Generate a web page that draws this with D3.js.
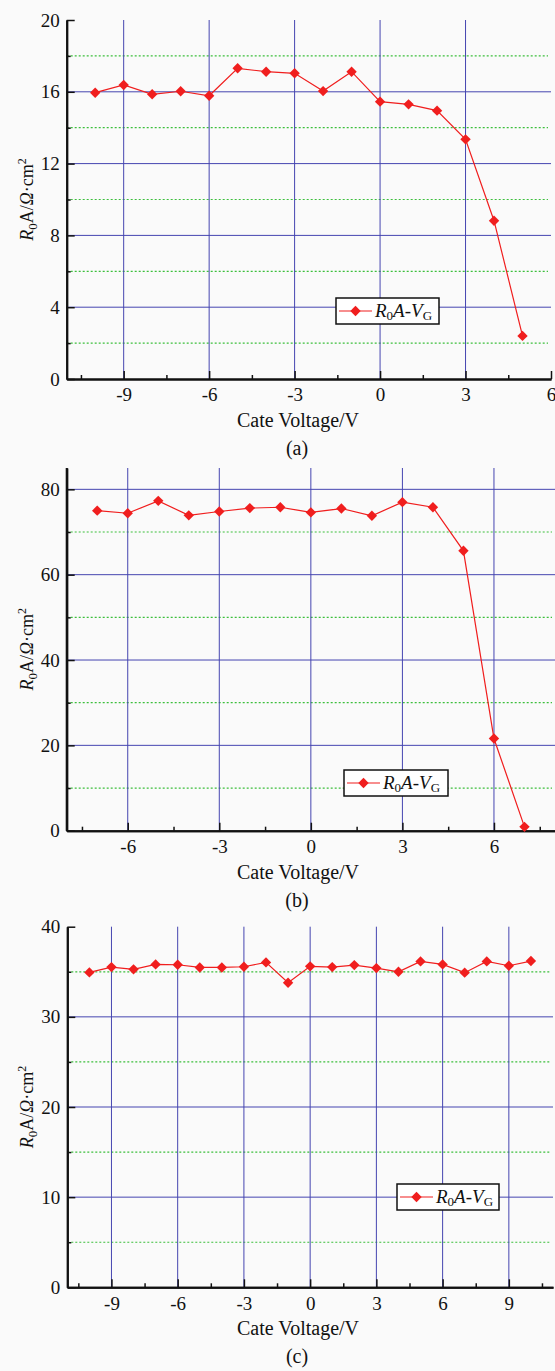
<!DOCTYPE html>
<html lang="en">
<head>
<meta charset="utf-8">
<title>R0A vs gate voltage</title>
<script src="https://cdn.jsdelivr.net/npm/d3@7"></script>
<style>
  body { margin: 0; background: #fafafa; }
  text { font-family: "Liberation Serif", "Times New Roman", serif; fill: #111; }
</style>
</head>
<body></body>
<script>

//****************************************************************************//
// Data

var voltsA = [-10, -9, -8, -7, -6, -5, -4, -3, -2, -1, 0, 1, 2, 3, 4, 5];
var r0aA   = [15.95, 16.38, 15.86, 16.03, 15.78, 17.31, 17.12, 17.03, 16.04, 17.12, 15.45, 15.3, 14.95, 13.35, 8.82, 2.4];

var voltsB = [-7, -6, -5, -4, -3, -2, -1, 0, 1, 2, 3, 4, 5, 6, 7];
var r0aB   = [75.0, 74.4, 77.3, 73.9, 74.8, 75.6, 75.8, 74.6, 75.5, 73.8, 77.0, 75.8, 65.6, 21.6, 0.9];

var voltsC = [-10, -9, -8, -7, -6, -5, -4, -3, -2, -1, 0, 1, 2, 3, 4, 5, 6, 7, 8, 9, 10];
var r0aC   = [34.93, 35.52, 35.27, 35.82, 35.78, 35.48, 35.48, 35.56, 36.04, 33.78, 35.6, 35.52, 35.74, 35.41, 35.0, 36.15, 35.82, 34.9, 36.15, 35.67, 36.19];

var xTicksA = [-9, -6, -3, 0, 3, 6],  xMinorA = [-10.5, -7.5, -4.5, -1.5, 1.5, 4.5];
var yTicksA = [0, 4, 8, 12, 16, 20],  yMinorA = [2, 6, 10, 14, 18];
var xTicksB = [-6, -3, 0, 3, 6],      xMinorB = [-7.5, -4.5, -1.5, 1.5, 4.5, 7.5];
var yTicksB = [0, 20, 40, 60, 80],    yMinorB = [10, 30, 50, 70];
var xTicksC = [-9, -6, -3, 0, 3, 6, 9], xMinorC = [-10.5, -7.5, -4.5, -1.5, 1.5, 4.5, 7.5, 10.5];
var yTicksC = [0, 10, 20, 30, 40],    yMinorC = [5, 15, 25, 35];

//****************************************************************************//
// Canvas

var width = 555, height = 1371;

var svg = d3.select("body").append("svg")
    .attr("width", width)
    .attr("height", height);

svg.append("rect").attr("width", width).attr("height", height).attr("fill", "#fafafa");

var blue = "#4545b0", green = "#3cbf3c", red = "#f01e1e";
var serif = "'Liberation Serif', 'Times New Roman', serif";

//****************************************************************************//
// Panel

function drawPanel(p){
    var x = d3.scaleLinear().domain(p.xDomain).range([p.left, p.right]);
    var y = d3.scaleLinear().domain(p.yDomain).range([p.bottom, p.top]);
    var g = svg.append("g");

    // dotted minor grid
    g.selectAll(".minorGrid").data(p.yMinor).enter().append("line")
        .attr("x1", p.left).attr("x2", p.right - 3)
        .attr("y1", d => y(d)).attr("y2", d => y(d))
        .attr("stroke", green).attr("stroke-width", 1.2)
        .attr("stroke-dasharray", "2,2");

    // solid major grid
    g.selectAll(".hGrid").data(p.yTicks.filter(d => d > 0 && y(d) > p.top + 1)).enter().append("line")
        .attr("x1", p.left).attr("x2", p.right)
        .attr("y1", d => y(d)).attr("y2", d => y(d))
        .attr("stroke", blue).attr("stroke-width", 1);

    g.selectAll(".vGrid").data(p.xTicks.filter(d => x(d) < p.right - 1)).enter().append("line")
        .attr("x1", d => x(d)).attr("x2", d => x(d))
        .attr("y1", p.top).attr("y2", p.bottom)
        .attr("stroke", blue).attr("stroke-width", 1);

    // axes
    var fmt = d => String(d);
    var xAxis = d3.axisBottom(x).tickValues(p.xTicks).tickSize(-8).tickSizeOuter(0).tickPadding(9).tickFormat(fmt);
    var gx = g.append("g").attr("transform", "translate(0," + p.bottom + ")").call(xAxis)
        .attr("font-family", serif).attr("font-size", 19);
    gx.selectAll("text").attr("dy", "0.71em");
    g.append("g").attr("transform", "translate(0," + p.bottom + ")")
        .call(d3.axisBottom(x).tickValues(p.xMinor).tickSize(-4).tickSizeOuter(0).tickFormat(""));

    var yAxis = d3.axisLeft(y).tickValues(p.yTicks).tickSize(-8).tickSizeOuter(0).tickPadding(7).tickFormat(fmt);
    g.append("g").attr("transform", "translate(" + p.left + ",0)").call(yAxis)
        .attr("font-family", serif).attr("font-size", 19);
    g.append("g").attr("transform", "translate(" + p.left + ",0)")
        .call(d3.axisLeft(y).tickValues(p.yMinor).tickSize(-4).tickSizeOuter(0).tickFormat(""));

    g.selectAll(".domain").attr("stroke", "#111").attr("stroke-width", 2);
    g.selectAll(".tick line").attr("stroke", "#111").attr("stroke-width", 1.5);
    g.selectAll(".tick text").attr("fill", "#111");
    if (p.yTop){
        g.append("line").attr("x1", p.left).attr("x2", p.left).attr("y1", p.top).attr("y2", p.bottom)
            .attr("stroke", "#111").attr("stroke-width", 2);
    }

    // series
    var pts = p.xs.map((d, i) => [d, p.ys[i]]);
    g.append("path")
        .attr("d", d3.line().x(d => x(d[0])).y(d => y(d[1]))(pts))
        .attr("fill", "none").attr("stroke", red).attr("stroke-width", 1.2);

    var marker = d3.symbol().type(d3.symbolSquare).size(54);
    g.selectAll(".pt").data(pts).enter().append("path")
        .attr("d", marker)
        .attr("transform", d => "translate(" + x(d[0]) + "," + y(d[1]) + ") rotate(45)")
        .attr("fill", red);

    // y label
    var yl = g.append("text")
        .attr("transform", "translate(33," + ((p.top + p.bottom) / 2) + ") rotate(-90)")
        .attr("text-anchor", "middle").attr("font-size", 18);
    yl.append("tspan").attr("font-style", "italic").text("R");
    yl.append("tspan").attr("font-size", 13).attr("dy", 4).text("0");
    yl.append("tspan").attr("dy", -4).text("A/");
    yl.append("tspan").attr("font-style", "italic").text("Ω");
    yl.append("tspan").text("·cm");
    yl.append("tspan").attr("font-size", 12).attr("dy", -7).text("2");

    // x label
    g.append("text").attr("x", 298).attr("y", p.bottom + 48)
        .attr("text-anchor", "middle").attr("font-size", 20).text("Cate Voltage/V");
    g.append("text").attr("x", 297).attr("y", p.bottom + 76)
        .attr("text-anchor", "middle").attr("font-size", 20).text(p.tag);

    // legend
    var lg = g.append("g").attr("transform", "translate(" + p.legend[0] + "," + p.legend[1] + ")");
    lg.append("rect").attr("width", p.legend[2]).attr("height", 26)
        .attr("fill", "#fff").attr("stroke", "#111").attr("stroke-width", 1.5);
    lg.append("line").attr("x1", 3).attr("x2", 36).attr("y1", 13).attr("y2", 13)
        .attr("stroke", red).attr("stroke-width", 1.2);
    lg.append("path").attr("d", marker).attr("transform", "translate(19.5,13) rotate(45)").attr("fill", red);
    var lt = lg.append("text").attr("x", 39).attr("y", 19).attr("font-size", 19);
    lt.append("tspan").attr("font-style", "italic").text("R");
    lt.append("tspan").attr("font-size", 13).attr("dy", 3).text("0");
    lt.append("tspan").attr("font-style", "italic").attr("dy", -3).text("A");
    lt.append("tspan").text("-");
    lt.append("tspan").attr("font-style", "italic").text("V");
    lt.append("tspan").attr("font-size", 13).attr("dy", 3).text("G");
}

drawPanel({
    xs: voltsA, ys: r0aA, xDomain: [-11, 6], yDomain: [0, 20],
    left: 66.7, right: 551, top: 20, bottom: 379,
    xTicks: xTicksA, xMinor: xMinorA, yTicks: yTicksA, yMinor: yMinorA,
    tag: "(a)", legend: [336, 298, 103]
});

drawPanel({
    xs: voltsB, ys: r0aB, xDomain: [-8, 8], yDomain: [0, 85],
    left: 66.7, right: 555, top: 468, bottom: 830.7,
    xTicks: xTicksB, xMinor: xMinorB, yTicks: yTicksB, yMinor: yMinorB,
    tag: "(b)", legend: [344, 770, 104], yTop: true
});

drawPanel({
    xs: voltsC, ys: r0aC, xDomain: [-11, 11], yDomain: [0, 40],
    left: 67.3, right: 553, top: 926.7, bottom: 1287.3,
    xTicks: xTicksC, xMinor: xMinorC, yTicks: yTicksC, yMinor: yMinorC,
    tag: "(c)", legend: [397, 1184, 102]
});

</script>
</html>
